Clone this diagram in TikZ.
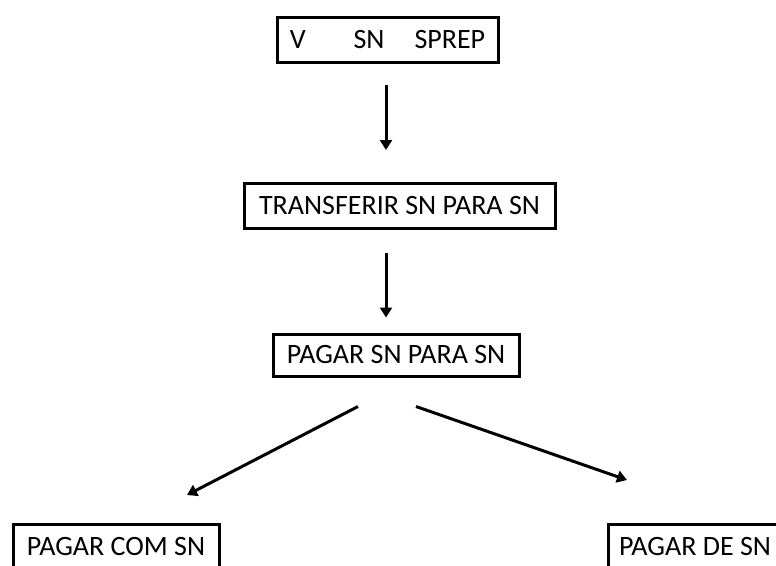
\documentclass[tikz,border=0pt]{standalone}
\usepackage{fontspec}
\setmainfont{Carlito}
\usetikzlibrary{arrows.meta}

\begin{document}
\begin{tikzpicture}[x=1pt,y=-1pt,
  frase/.style={draw, line width=3pt, fill=white, inner sep=0pt,
    minimum height=45pt, font=\fontsize{28}{31}\selectfont},
  seta/.style={line width=3pt, -{Triangle[length=10pt,width=12pt]}}]
\useasboundingbox (0,0) rectangle (776,565);
\node[frase, minimum width=221pt] (esquema) at (387.5,40) {V\hspace{48pt}SN\hspace{30pt}SPREP};
\node[frase, minimum width=311pt] (transferir) at (399.5,206) {TRANSFERIR SN PARA SN};
\node[frase, minimum width=246pt, minimum height=42pt] (pagar) at (396,355) {PAGAR SN PARA SN};
\node[frase, minimum width=206pt] (pagarcom) at (116,547) {PAGAR COM SN};
\node[frase, minimum width=174pt] (pagarde) at (695,547) {PAGAR DE SN};
\draw[seta, shorten <=21pt, shorten >=32pt] ([xshift=-1.5pt]esquema.south) -- ([xshift=-1.5pt]esquema.south |- transferir.north);
\draw[seta, shorten <=23pt, shorten >=15pt] ([xshift=-13.5pt]transferir.south) -- ([xshift=-13.5pt]transferir.south |- pagar.north);
\draw[seta] ([xshift=-38pt,yshift=-29pt]pagar.south) -- ([xshift=71pt,yshift=28pt]pagarcom.north);
\draw[seta] ([xshift=20pt,yshift=-29pt]pagar.south) -- ([xshift=-68pt,yshift=43pt]pagarde.north);
\end{tikzpicture}
\end{document}
